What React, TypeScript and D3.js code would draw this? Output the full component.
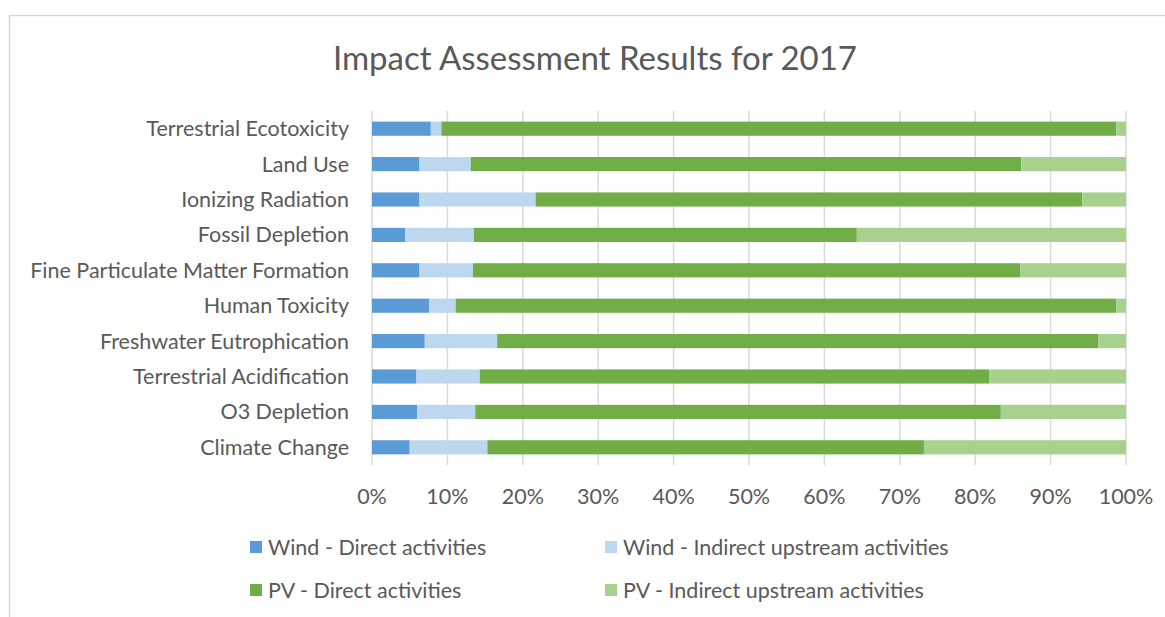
import React, { useEffect, useRef } from 'react';
import * as d3 from 'd3';

const categories = [
  'Terrestrial Ecotoxicity',
  'Land Use',
  'Ionizing Radiation',
  'Fossil Depletion',
  'Fine Particulate Matter Formation',
  'Human Toxicity',
  'Freshwater Eutrophication',
  'Terrestrial Acidification',
  'O3 Depletion',
  'Climate Change',
];

const seriesNames = [
  'Wind - Direct activities',
  'Wind - Indirect upstream activities',
  'PV - Direct activities',
  'PV - Indirect upstream activities',
];

const windDirect = [7.8, 6.3, 6.3, 4.4, 6.3, 7.6, 7.0, 5.9, 6.0, 5.0];
const windIndirect = [1.4, 6.8, 15.4, 9.1, 7.1, 3.5, 9.6, 8.4, 7.7, 10.3];
const pvDirect = [89.5, 73.0, 72.5, 50.8, 72.6, 87.6, 79.7, 67.6, 69.7, 57.9];
const pvIndirect = [1.3, 13.9, 5.8, 35.7, 14.0, 1.3, 3.7, 18.1, 16.6, 26.8];

const colors = ['#5B9BD5', '#BDD7EE', '#70AD47', '#A9D18E'];
const tickValues = [0, 0.1, 0.2, 0.3, 0.4, 0.5, 0.6, 0.7, 0.8, 0.9, 1];

const FONT = 'Lato, sans-serif';
const TEXT = '#595959';
const LABEL_SIZE = '21.5px';

function App() {
  const svgRef = useRef<SVGSVGElement>(null);

  useEffect(() => {
    const svg = d3.select(svgRef.current);
    svg.selectAll('*').remove();

    const width = 1165;
    const height = 617;
    const margin = { top: 111, left: 372, right: 39, bottom: 152 };

    const rows = categories.map((c, i) => {
      const vals = [windDirect[i], windIndirect[i], pvDirect[i], pvIndirect[i]];
      const total = d3.sum(vals);
      const row: any = { category: c };
      seriesNames.forEach((s, j) => (row[s] = vals[j] / total));
      return row;
    });

    const stacked = d3.stack().keys(seriesNames)(rows);

    const x = d3.scaleLinear().domain([0, 1]).range([margin.left, width - margin.right]);
    const y = d3.scaleBand()
      .domain(categories)
      .range([margin.top, height - margin.bottom])
      .paddingInner(0.6)
      .paddingOuter(0.3);

    // chart frame
    svg.append('rect')
      .attr('x', 9.5)
      .attr('y', 15.5)
      .attr('width', 1200)
      .attr('height', 700)
      .attr('fill', '#fff')
      .attr('stroke', '#D9D9D9')
      .attr('stroke-width', 1.5);

    svg.append('text')
      .attr('x', 595)
      .attr('y', 70)
      .attr('text-anchor', 'middle')
      .attr('fill', TEXT)
      .style('font-family', FONT)
      .style('font-size', '33px')
      .text('Impact Assessment Results for 2017');

    // gridlines
    svg.append('g')
      .selectAll('line')
      .data(tickValues)
      .join('line')
      .attr('x1', (d) => x(d))
      .attr('x2', (d) => x(d))
      .attr('y1', margin.top)
      .attr('y2', height - margin.bottom)
      .attr('stroke', '#D9D9D9')
      .attr('stroke-width', 1.5);

    svg.append('g')
      .selectAll('g')
      .data(stacked)
      .join('g')
      .attr('fill', (d, i) => colors[i])
      .selectAll('rect')
      .data((d) => d)
      .join('rect')
      .attr('x', (d) => x(d[0]))
      .attr('y', (d) => y(d.data.category as string)!)
      .attr('width', (d) => x(d[1]) - x(d[0]))
      .attr('height', y.bandwidth());

    // category labels
    svg.append('g')
      .selectAll('text')
      .data(categories)
      .join('text')
      .attr('x', margin.left - 23)
      .attr('y', (d) => y(d)! + y.bandwidth() / 2)
      .attr('dy', '0.35em')
      .attr('text-anchor', 'end')
      .attr('fill', TEXT)
      .style('font-family', FONT)
      .style('font-size', LABEL_SIZE)
      .text((d) => d);

    // x tick labels
    svg.append('g')
      .selectAll('text')
      .data(tickValues)
      .join('text')
      .attr('x', (d) => x(d))
      .attr('y', 496)
      .attr('dy', '0.35em')
      .attr('text-anchor', 'middle')
      .attr('fill', TEXT)
      .style('font-family', FONT)
      .style('font-size', LABEL_SIZE)
      .text((d) => d3.format('.0%')(d));

    // legend
    const legendPos = [
      [250, 547],
      [605, 547],
      [250, 590],
      [605, 590],
    ];
    const legend = svg.append('g')
      .selectAll('g')
      .data(seriesNames)
      .join('g')
      .attr('transform', (d, i) => `translate(${legendPos[i][0]},${legendPos[i][1]})`);
    legend.append('rect')
      .attr('x', 0)
      .attr('y', -6)
      .attr('width', 12)
      .attr('height', 12)
      .attr('fill', (d, i) => colors[i]);
    legend.append('text')
      .attr('x', 18)
      .attr('y', 0)
      .attr('dy', '0.35em')
      .attr('fill', TEXT)
      .style('font-family', FONT)
      .style('font-size', LABEL_SIZE)
      .text((d) => d);
  }, []);

  return (
    <div style={{ position: 'absolute', left: 0, top: 0 }}>
      <svg ref={svgRef} width={1165} height={617} style={{ display: 'block' }} />
    </div>
  );
}

export default App;
